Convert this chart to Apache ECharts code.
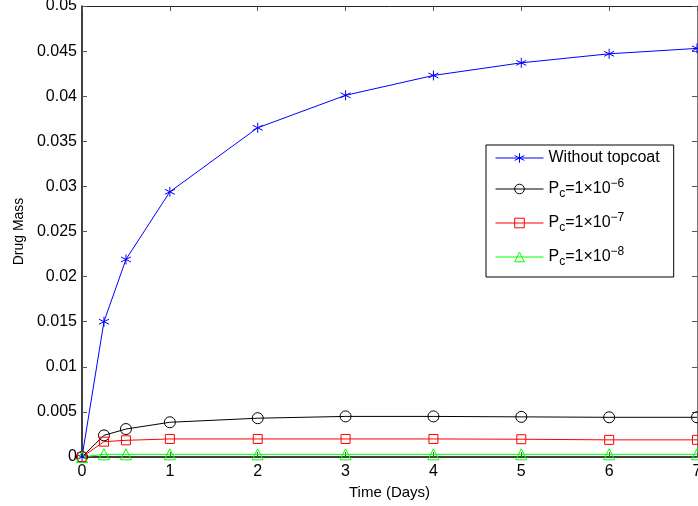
<!DOCTYPE html>
<html><head><meta charset="utf-8">
<script src="https://cdn.jsdelivr.net/npm/echarts@6/dist/echarts.min.js"></script>
<style>html,body{margin:0;padding:0;background:#fff}#c{width:698px;height:506px}</style>
</head><body><div id="c"></div>
<script>
var timeDays = [0, 0.25, 0.5, 1, 2, 3, 4, 5, 6, 7];
var withoutTopcoat = [0, 0.0150, 0.0219, 0.0294, 0.0365, 0.0401, 0.0423, 0.0437, 0.0447, 0.0453];
var pc6 = [0, 0.0024, 0.0031, 0.00385, 0.0043, 0.0045, 0.0045, 0.00445, 0.0044, 0.0044];
var pc7 = [0, 0.0017, 0.00185, 0.0020, 0.0020, 0.0020, 0.0020, 0.00197, 0.0019, 0.0019];
var pc8 = [0, 0.0003, 0.0003, 0.0003, 0.0003, 0.0003, 0.0003, 0.0003, 0.0003, 0.0003];
var seriesNames = ['Without topcoat', 'Pc6', 'Pc7', 'Pc8'];
var legendLabels = {
  'Without topcoat': '{n|Without topcoat}',
  'Pc6': '{n|P}{sub|c}{n|=1×10}{sup|−6}',
  'Pc7': '{n|P}{sub|c}{n|=1×10}{sup|−7}',
  'Pc8': '{n|P}{sub|c}{n|=1×10}{sup|−8}'
};
function pairs(ys){ return timeDays.map(function(x,i){ return [x, ys[i]]; }); }
var FONT = '"Liberation Sans", Arial, Helvetica, sans-serif';
var asterisk = 'path://M0,-5L0,5M-4.33,-2.5L4.33,2.5M-4.33,2.5L4.33,-2.5';
var chart = echarts.init(document.getElementById('c'), null, {renderer:'canvas'});
function mk(name, data, color, symbol, size){
  return {
    name: name, type: 'line', data: pairs(data), symbol: symbol, symbolSize: size,
    xAxisIndex: 0, yAxisIndex: 0,
    lineStyle: {color: color, width: 1},
    itemStyle: {color: 'rgba(255,255,255,0)', borderColor: color, borderWidth: 1},
    emphasis: {disabled: true}, animation: false, z: 3
  };
}
var tickStyle = {show: true, inside: true, length: 5, lineStyle: {color: '#555', width: 1}};
chart.setOption({
  backgroundColor: '#fff',
  animation: false,
  textStyle: {fontFamily: FONT},
  grid: {left: 82, right: 1, top: 6, bottom: 49, containLabel: false, outerBoundsMode: 'none'},
  xAxis: [{
    type: 'value', min: 0, max: 7, interval: 1, position: 'bottom',
    name: 'Time (Days)', nameLocation: 'middle', nameGap: 27,
    nameTextStyle: {color: '#000', fontSize: 15, fontFamily: FONT},
    axisLine: {show: true, onZero: false, lineStyle: {color: '#000', width: 1.5}},
    axisTick: tickStyle,
    axisLabel: {color: '#000', fontSize: 16, margin: 7, fontFamily: FONT, hideOverlap: false},
    splitLine: {show: false}
  }, {
    type: 'value', min: 0, max: 7, interval: 1, position: 'top',
    axisLine: {show: true, onZero: false, lineStyle: {color: '#222', width: 1}},
    axisTick: tickStyle, axisLabel: {show: false}, splitLine: {show: false}
  }],
  yAxis: [{
    type: 'value', min: 0, max: 0.05, interval: 0.005, position: 'left',
    name: 'Drug Mass', nameLocation: 'middle', nameGap: 54, nameRotate: 90,
    nameTextStyle: {color: '#000', fontSize: 14, fontFamily: FONT},
    axisLine: {show: true, onZero: false, lineStyle: {color: '#000', width: 1.5}},
    axisTick: tickStyle,
    axisLabel: {color: '#000', fontSize: 16, margin: 5, fontFamily: FONT, padding: [3, 0, 0, 0]},
    splitLine: {show: false}
  }, {
    type: 'value', min: 0, max: 0.05, interval: 0.005, position: 'right',
    axisLine: {show: true, onZero: false, lineStyle: {color: '#777', width: 1}},
    axisTick: tickStyle, axisLabel: {show: false}, splitLine: {show: false}
  }],
  legend: {
    data: seriesNames, orient: 'vertical', left: 486, top: 145,
    padding: [5, 14, 9, 9], itemGap: 12, itemWidth: 48, itemHeight: 12,
    backgroundColor: '#fff', borderColor: '#000', borderWidth: 1,
    selectedMode: false,
    lineStyle: {width: 1},
    itemStyle: {borderWidth: 1},
    formatter: function(name){ return legendLabels[name]; },
    textStyle: {
      color: '#000', fontFamily: FONT, fontSize: 16,
      rich: {
        n: {fontSize: 16, lineHeight: 22, verticalAlign: 'middle', color: '#000', fontFamily: FONT},
        sub: {fontSize: 12, lineHeight: 12, verticalAlign: 'bottom', color: '#000', fontFamily: FONT},
        sup: {fontSize: 12, lineHeight: 12, verticalAlign: 'top', color: '#000', fontFamily: FONT}
      }
    }
  },
  series: [
    mk('Without topcoat', withoutTopcoat, '#0000ff', asterisk, 10),
    mk('Pc6', pc6, '#000000', 'circle', 11),
    mk('Pc7', pc7, '#ff0000', 'rect', 9),
    mk('Pc8', pc8, '#00ff00', 'triangle', 11)
  ]
});
</script></body></html>
